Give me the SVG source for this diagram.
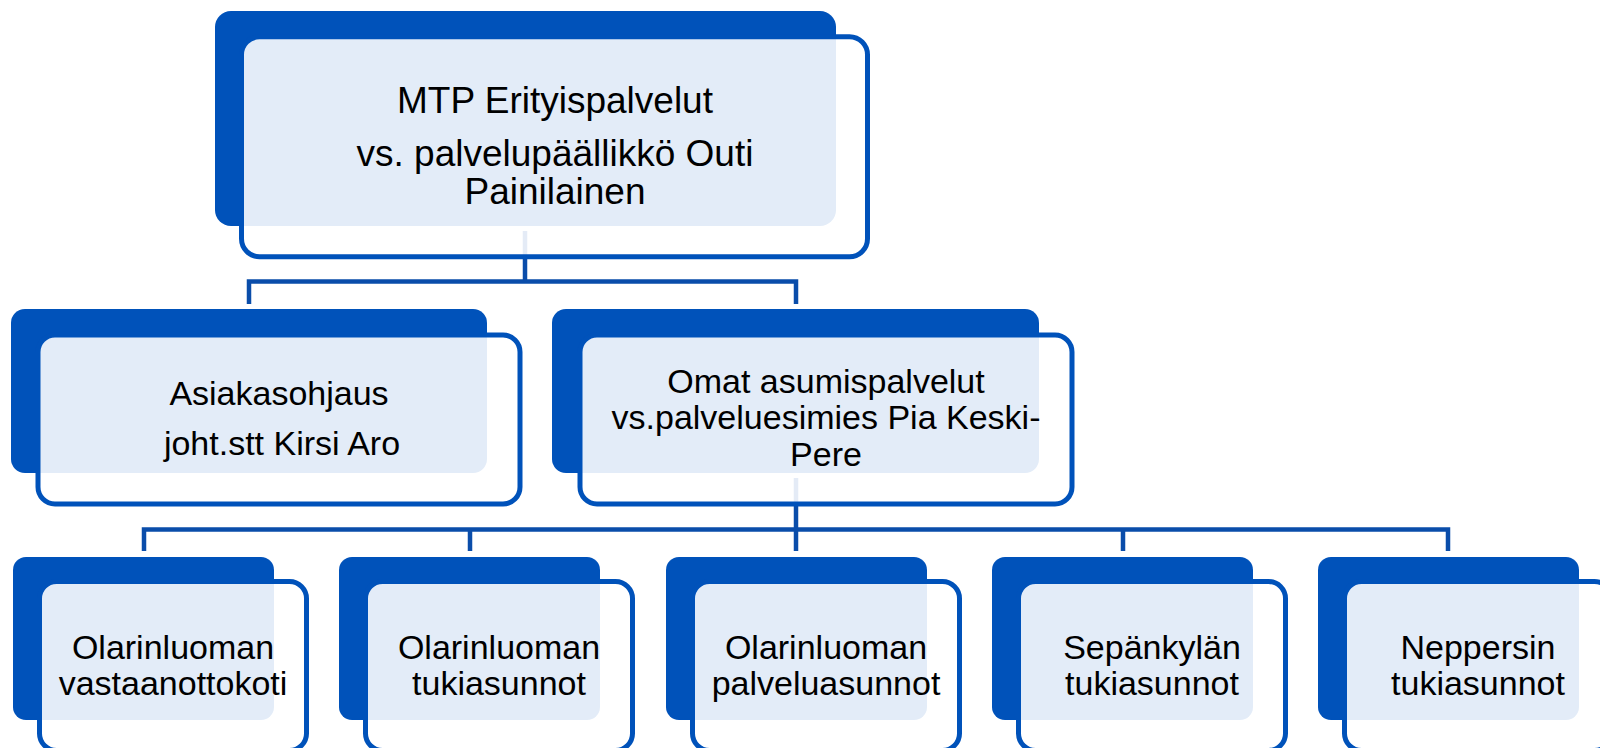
<svg xmlns="http://www.w3.org/2000/svg" width="1600" height="748" viewBox="0 0 1600 748">
<style>
.back{fill:#0052BA;}
.front{fill:#FFFFFF;fill-opacity:0.89;stroke:#0052BA;stroke-width:5;}
.conn{fill:none;stroke:#0A4DAA;stroke-width:4.5;stroke-linejoin:miter;}
.t{font-family:"Liberation Sans",Arial,sans-serif;fill:#000;text-anchor:middle;}
.t1{font-size:37px;}
.t2{font-size:34px;}
</style>
<rect width="1600" height="748" fill="#FFFFFF"/>
<g id="back-layer">
<rect class="back" x="215" y="11" width="621" height="215" rx="16"/>
<rect class="back" x="11" y="309" width="476" height="164" rx="14"/>
<rect class="back" x="552" y="309" width="487" height="164" rx="14"/>
<rect class="back" x="13" y="557" width="261" height="163" rx="13"/>
<rect class="back" x="339" y="557" width="261" height="163" rx="13"/>
<rect class="back" x="666" y="557" width="261" height="163" rx="13"/>
<rect class="back" x="992" y="557" width="261" height="163" rx="13"/>
<rect class="back" x="1318" y="557" width="261" height="163" rx="13"/>
</g>
<g id="connectors">
<path class="conn" d="M525 231 V281.5 M249 304 V281.5 H796 V304"/>
<path class="conn" d="M796 478 V529.5"/>
<path class="conn" stroke-width="5" d="M144 551 V529.5 H1448 V551 M470 529.5 V551 M796 529.5 V551 M1123 529.5 V551"/>
</g>
<g id="node-top">
<rect class="front" x="241.5" y="36.8" width="626" height="220" rx="18"/>
<text class="t t1" x="555" y="112.7">MTP Erityispalvelut</text>
<text class="t t1" x="555" y="165.7">vs. palvelupäällikkö Outi</text>
<text class="t t1" x="555" y="204">Painilainen</text>
</g>
<g id="node-asiakasohjaus">
<rect class="front" x="38" y="335" width="482" height="169" rx="17"/>
<text class="t t2" x="279" y="405">Asiakasohjaus</text>
<text class="t t2" x="282" y="455">joht.stt Kirsi Aro</text>
</g>
<g id="node-omat">
<rect class="front" x="580" y="335" width="492" height="169" rx="17"/>
<text class="t t2" x="826" y="392.7">Omat asumispalvelut</text>
<text class="t t2" x="826" y="429.3">vs.palveluesimies Pia Keski-</text>
<text class="t t2" x="826" y="465.7">Pere</text>
</g>
<g id="node-vastaanottokoti">
<rect class="front" x="39.5" y="581.5" width="267" height="169" rx="17"/>
<text class="t t2" x="173" y="659">Olarinluoman</text>
<text class="t t2" x="173" y="695">vastaanottokoti</text>
</g>
<g id="node-olarinluoman-tukiasunnot">
<rect class="front" x="365.5" y="581.5" width="267" height="169" rx="17"/>
<text class="t t2" x="499" y="659">Olarinluoman</text>
<text class="t t2" x="499" y="695">tukiasunnot</text>
</g>
<g id="node-palveluasunnot">
<rect class="front" x="692.5" y="581.5" width="267" height="169" rx="17"/>
<text class="t t2" x="826" y="659">Olarinluoman</text>
<text class="t t2" x="826" y="695">palveluasunnot</text>
</g>
<g id="node-sepankyla">
<rect class="front" x="1018.5" y="581.5" width="267" height="169" rx="17"/>
<text class="t t2" x="1152" y="659">Sepänkylän</text>
<text class="t t2" x="1152" y="695">tukiasunnot</text>
</g>
<g id="node-neppersin">
<rect class="front" x="1344.5" y="581.5" width="267" height="169" rx="17"/>
<text class="t t2" x="1478" y="659">Neppersin</text>
<text class="t t2" x="1478" y="695">tukiasunnot</text>
</g>
</svg>
